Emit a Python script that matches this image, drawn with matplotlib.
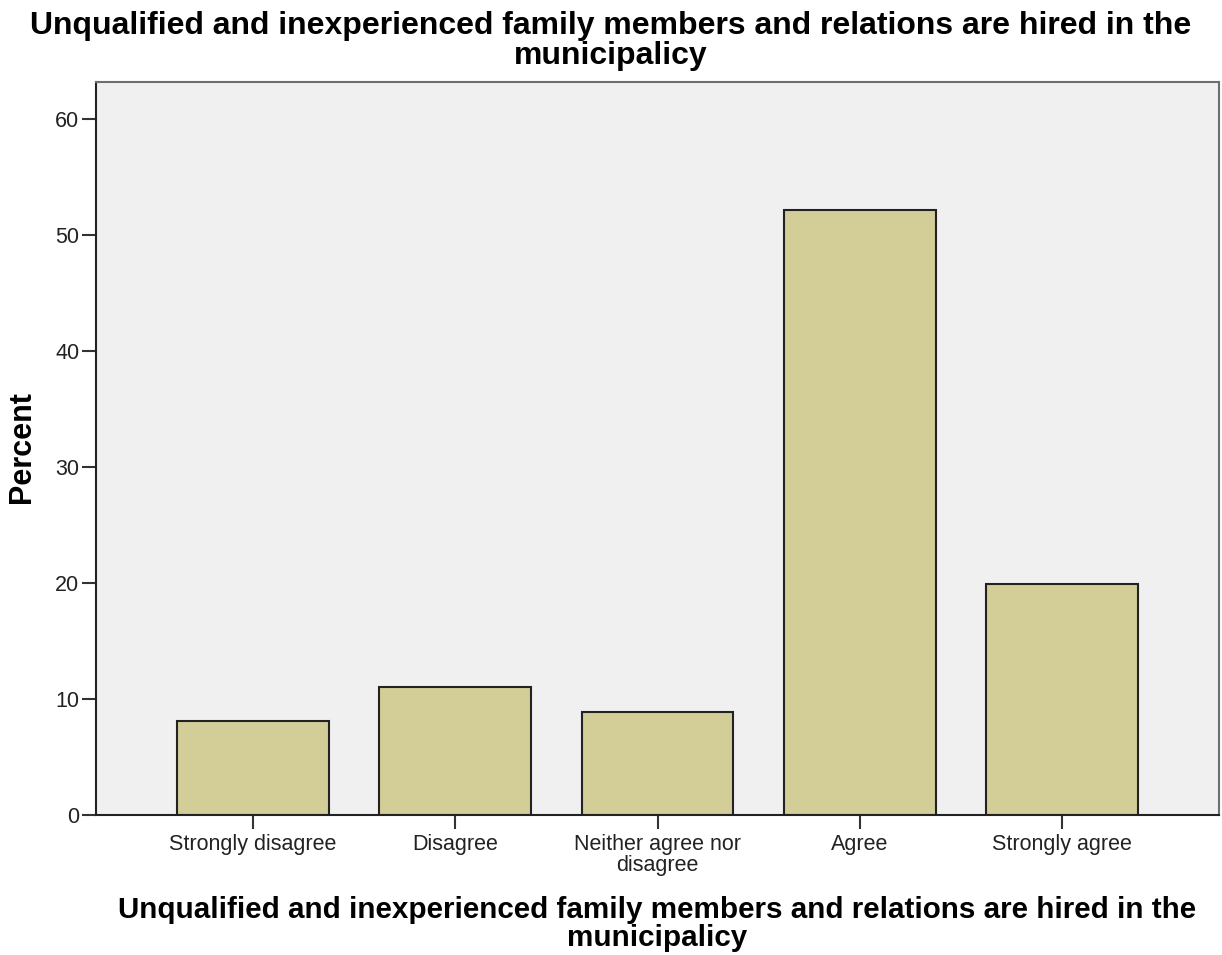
import matplotlib; matplotlib.use("Agg")
import matplotlib.pyplot as plt

plt.rcParams.update({"font.family": ["Liberation Sans", "DejaVu Sans"]})

categories = ["Strongly disagree", "Disagree", "Neither agree nor\ndisagree", "Agree", "Strongly agree"]
percent = [8.1, 11.0, 8.9, 52.2, 19.9]
yticks = [0, 10, 20, 30, 40, 50, 60]
title = "Unqualified and inexperienced family members and relations are hired in the\nmunicipalicy"

BG = "#f0f0f0"; BAR = "#d3ce97"; EDGE = "#222222"; FRAME = "#6e6e6e"
W, H = 1222, 955

fig = plt.figure(figsize=(W/100, H/100), dpi=100)
ax = fig.add_axes([96/W, 1-815/H, (1219-96)/W, (815-82)/H])
ax.set_facecolor(BG)

x = range(len(categories))
ax.bar(x, percent, width=0.75, color=BAR, edgecolor=EDGE, linewidth=1.5, zorder=2)

ax.set_xlim(-0.777, len(categories) - 1 + 0.777)
ax.set_ylim(0, 63.2)
ax.set_yticks(yticks)
ax.set_xticks(list(x))
ax.set_xticklabels(categories, fontsize=15.5, linespacing=0.95, color="#222")
ax.tick_params(axis="y", labelsize=15.5, labelcolor="#222", length=10, width=1.5, color="#333", pad=2)
ax.tick_params(axis="x", length=10, width=1.5, color="#333", pad=4)

for s in ["left", "bottom"]:
    ax.spines[s].set_color("#222"); ax.spines[s].set_linewidth(1.5)
for s in ["top", "right"]:
    ax.spines[s].set_color(FRAME); ax.spines[s].set_linewidth(1.5)

fig.text(22/W, 1-447/H, "Percent", rotation=90, fontsize=22, fontweight="bold",
         ha="center", va="center")
fig.text(657/W, 1-896/H, title, fontsize=21.3, fontweight="bold", ha="center", va="top",
         linespacing=1.0)
fig.text(0.5, 1-11/H, title, fontsize=23, fontweight="bold", ha="center", va="top",
         linespacing=0.98)

fig.savefig("out.png", dpi=100)
plt.close(fig)
